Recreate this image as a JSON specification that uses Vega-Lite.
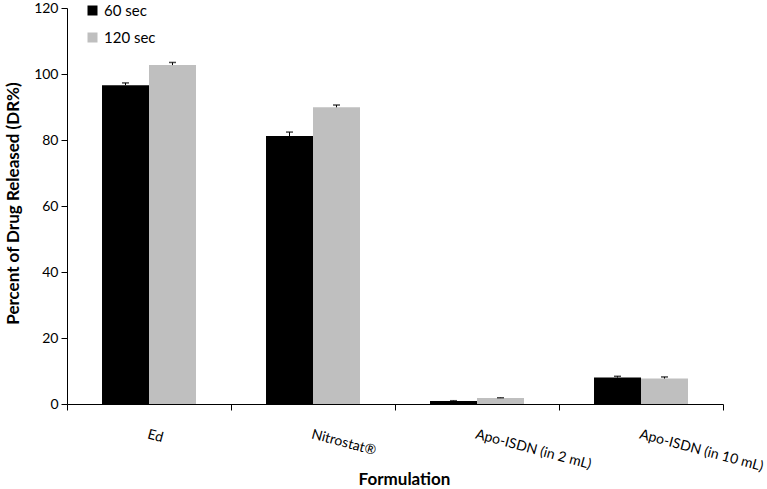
{
  "$schema": "https://vega.github.io/schema/vega-lite/v6.json",
  "width": 656,
  "height": 396,
  "autosize": {"type": "none"},
  "padding": {"left": 67, "top": 8, "right": 44, "bottom": 85},
  "config": {
    "font": "Lato",
    "view": {"stroke": null},
    "axis": {"grid": false, "domainColor": "#000", "tickColor": "#000", "labelColor": "#000", "titleColor": "#000", "domainWidth": 1, "tickWidth": 1}
  },
  "data": {
    "values": [
      {"formulation": "Ed", "time": "60 sec", "value": 96.6, "upper": 97.3},
      {"formulation": "Ed", "time": "120 sec", "value": 102.7, "upper": 103.5},
      {"formulation": "Nitrostat®", "time": "60 sec", "value": 81.2, "upper": 82.4},
      {"formulation": "Nitrostat®", "time": "120 sec", "value": 89.9, "upper": 90.6},
      {"formulation": "Apo-ISDN (in 2 mL)", "time": "60 sec", "value": 0.9, "upper": 1.0},
      {"formulation": "Apo-ISDN (in 2 mL)", "time": "120 sec", "value": 1.8, "upper": 1.9},
      {"formulation": "Apo-ISDN (in 10 mL)", "time": "60 sec", "value": 8.0, "upper": 8.4},
      {"formulation": "Apo-ISDN (in 10 mL)", "time": "120 sec", "value": 7.7, "upper": 8.2}
    ]
  },
  "encoding": {
    "x": {
      "field": "formulation",
      "type": "nominal",
      "sort": ["Ed", "Nitrostat®", "Apo-ISDN (in 2 mL)", "Apo-ISDN (in 10 mL)"],
      "scale": {"paddingInner": 0, "paddingOuter": 0},
      "axis": {
        "tickBand": "extent",
        "labelAngle": 15,
        "labelAlign": "left",
        "labelBaseline": "top",
        "labelPadding": 17,
        "tickSize": 6,
        "labelFontSize": 14,
        "labelOverlap": false,
        "labelBound": false,
        "labelLimit": 300,
        "title": "Formulation",
        "titleFontSize": 17,
        "titleFontWeight": "bold",
        "titleX": 337,
        "titleY": 75,
        "titleBaseline": "middle"
      }
    },
    "xOffset": {
      "field": "time",
      "type": "nominal",
      "sort": ["60 sec", "120 sec"],
      "scale": {"paddingInner": 0, "paddingOuter": 0.745}
    }
  },
  "layer": [
    {
      "mark": {"type": "bar"},
      "encoding": {
        "y": {
          "field": "value",
          "type": "quantitative",
          "scale": {"domain": [0, 120], "nice": false},
          "axis": {
            "values": [0, 20, 40, 60, 80, 100, 120],
            "labelFontSize": 14,
            "tickSize": 6,
            "labelPadding": 3,
            "title": "Percent of Drug Released (DR%)",
            "titleFontSize": 17,
            "titleFontWeight": "bold",
            "titleX": -54,
            "titleY": 195,
            "titleAngle": -90,
            "titleAlign": "center",
            "titleBaseline": "middle"
          }
        },
        "color": {
          "field": "time",
          "type": "nominal",
          "scale": {"domain": ["60 sec", "120 sec"], "range": ["#000000", "#bfbfbf"]},
          "legend": {
            "orient": "none",
            "legendX": 18,
            "legendY": -5,
            "title": null,
            "symbolType": "square",
            "symbolSize": 100,
            "symbolStrokeWidth": 0,
            "labelFontSize": 15,
            "labelColor": "#000",
            "rowPadding": 11,
            "labelOffset": 4
          }
        }
      }
    },
    {
      "mark": {"type": "rule", "color": "#000", "strokeWidth": 1},
      "encoding": {
        "y": {"field": "value", "type": "quantitative"},
        "y2": {"field": "upper"}
      }
    },
    {
      "mark": {"type": "tick", "color": "#000", "size": 7, "thickness": 1.5},
      "encoding": {
        "y": {"field": "upper", "type": "quantitative"}
      }
    }
  ]
}
